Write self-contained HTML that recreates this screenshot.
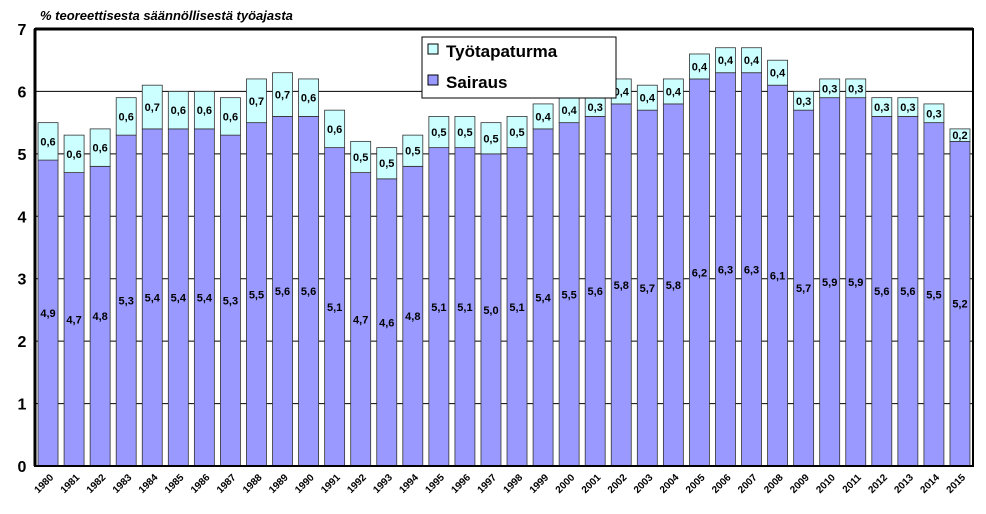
<!DOCTYPE html>
<html><head><meta charset="utf-8"><style>
body{margin:0;background:#fff;font-family:"Liberation Sans",Arial,sans-serif}
svg text{font-family:"Liberation Sans",Arial,sans-serif;font-weight:bold}
</style></head><body>
<svg id="chart" width="986" height="509" viewBox="0 0 986 509">
<text x="40" y="20" font-size="13" font-style="italic">% teoreettisesta säännöllisestä työajasta</text>
<g id="grid"></g><g id="bars"></g><g id="ylab"></g><g id="xlab"></g>
<rect x="35" y="29" width="938" height="437" fill="none" stroke="#000" stroke-width="2"/>
<line x1="35" y1="29" x2="35" y2="466" stroke="#000" stroke-width="3"/>
<line x1="35" y1="29" x2="973" y2="29" stroke="#000" stroke-width="3"/>
<g>
<rect x="422" y="37" width="194" height="61" fill="#fff" stroke="#000" stroke-width="1"/>
<rect x="428" y="44" width="10" height="10" fill="#ccffff" stroke="#000"/>
<text x="446" y="57" font-size="17">Työtapaturma</text>
<rect x="428" y="75" width="10" height="10" fill="#9999ff" stroke="#000"/>
<text x="446" y="88" font-size="17">Sairaus</text>
</g>
</svg>
<script>
const years=[1980,1981,1982,1983,1984,1985,1986,1987,1988,1989,1990,1991,1992,1993,1994,1995,1996,1997,1998,1999,2000,2001,2002,2003,2004,2005,2006,2007,2008,2009,2010,2011,2012,2013,2014,2015];
const sairaus=[4.9,4.7,4.8,5.3,5.4,5.4,5.4,5.3,5.5,5.6,5.6,5.1,4.7,4.6,4.8,5.1,5.1,5.0,5.1,5.4,5.5,5.6,5.8,5.7,5.8,6.2,6.3,6.3,6.1,5.7,5.9,5.9,5.6,5.6,5.5,5.2];
const tyotapaturma=[0.6,0.6,0.6,0.6,0.7,0.6,0.6,0.6,0.7,0.7,0.6,0.6,0.5,0.5,0.5,0.5,0.5,0.5,0.5,0.4,0.4,0.3,0.4,0.4,0.4,0.4,0.4,0.4,0.4,0.3,0.3,0.3,0.3,0.3,0.3,0.2];
const yTicks=[0,1,2,3,4,5,6,7];
const X0=35,X1=973,Y0=466,Y1=29,YMAX=7;
const slot=(X1-X0)/years.length,bw=20;
const y=v=>Y0-(v/YMAX)*(Y0-Y1);
const x=i=>X0+i*slot+(slot-bw)/2;
const NS="http://www.w3.org/2000/svg";
function mk(t,a,p){const e=document.createElementNS(NS,t);for(const k in a)e.setAttribute(k,a[k]);p.appendChild(e);return e;}
const fmt=v=>v.toFixed(1).replace('.',',');
const G=document.getElementById('grid'),B=document.getElementById('bars'),YL=document.getElementById('ylab'),XL=document.getElementById('xlab');
yTicks.forEach(t=>{
 const l=mk('line',{x1:X0,x2:X1,y1:y(t),y2:y(t),stroke:'#000','stroke-width':1},G);
 
 
 const tx=mk('text',{x:22,y:y(t)+6,'font-size':16,'text-anchor':'middle'},YL);
 tx.textContent=t;
 
 
});
years.forEach((yr,i)=>{
 const s=sairaus[i],t=tyotapaturma[i],bx=x(i);
 const r1=mk('rect',{x:bx,y:y(s),width:bw,height:Y0-y(s),fill:'#9999ff',stroke:'#333','stroke-width':0.8},B);
 
 
 const r2=mk('rect',{x:bx,y:y(s+t),width:bw,height:y(s)-y(s+t),fill:'#ccffff',stroke:'#333','stroke-width':0.8},B);
 
 
 const l1=mk('text',{x:bx+bw/2,y:y(s/2)+4,'font-size':11,'text-anchor':'middle'},B);
 l1.textContent=fmt(s);
 
 
 const l2=mk('text',{x:bx+bw/2,y:y(s+t/2)+4,'font-size':11,'text-anchor':'middle'},B);
 l2.textContent=fmt(t);
 
 
 const cx=bx+bw/2;
 const xt=mk('text',{x:cx+6,y:478,'font-size':10,'text-anchor':'end',transform:`rotate(-45 ${cx+6} 478)`},XL);
 xt.textContent=yr;
 
 
});
</script>
</body></html>
